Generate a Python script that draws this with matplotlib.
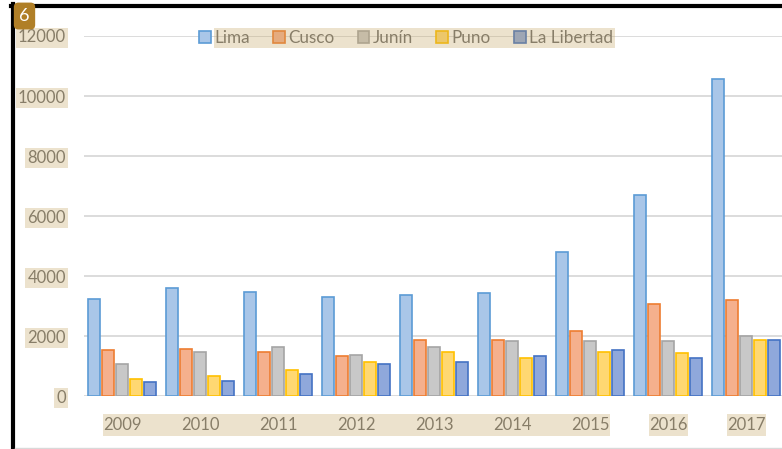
import numpy as np
import matplotlib.pyplot as plt
from matplotlib.patches import Rectangle
from matplotlib.lines import Line2D

years = ['2009', '2010', '2011', '2012', '2013', '2014', '2015', '2016', '2017']
regions = ['Lima', 'Cusco', 'Junín', 'Puno', 'La Libertad']
lima = [3250, 3620, 3480, 3320, 3390, 3430, 4800, 6690, 10560]
cusco = [1550, 1590, 1460, 1350, 1880, 1880, 2160, 3080, 3200]
junin = [1070, 1490, 1650, 1370, 1650, 1840, 1830, 1850, 2020]
puno = [580, 690, 860, 1130, 1480, 1290, 1480, 1450, 1890]
libertad = [480, 520, 750, 1070, 1150, 1340, 1540, 1280, 1880]

fills = ['#A9C6E8', '#F5B08D', '#C8C8C8', '#FFD872', '#8FA8DB']
edges = ['#5B9BD5', '#ED7D31', '#A5A5A5', '#FFC000', '#4472C4']

W, H = 782, 449
def fx(px):
    return px / W
def fy(py):
    return 1 - py / H

plt.rcParams['font.family'] = ['Lato', 'DejaVu Sans']

fig = plt.figure(figsize=(W / 100, H / 100), dpi=100)
ax = fig.add_axes([fx(84), fy(396.3), fx(698), (396.3 - 36) / H])
ax.set_facecolor('none')

x = np.arange(len(years))
pitch = 0.177
bw = 0.155
series = [lima, cusco, junin, puno, libertad]
bars = []
for i, vals in enumerate(series):
    b = ax.bar(x + (i - 2) * pitch, vals, bw, color=fills[i], edgecolor=edges[i],
               linewidth=1.2, label=regions[i], zorder=3)
    bars.append(b)

ax.set_xlim(-0.487, 8.461)
ax.set_ylim(0, 12000)
ax.set_yticks(range(0, 12001, 2000))
ax.set_xticks(x, years)
ax.yaxis.grid(True, color='#D9D9D9', lw=1.3)
ax.set_axisbelow(True)
for s in ax.spines.values():
    s.set_visible(False)
ax.tick_params(axis='both', length=0, labelsize=12, labelcolor='#6E6E6E')
ax.tick_params(axis='y', pad=13)
ax.tick_params(axis='x', pad=15)

leg = fig.legend(handles=bars, labels=regions, ncol=5, loc='center',
                 bbox_to_anchor=(fx(406), fy(38)), frameon=False, fontsize=12.3,
                 handlelength=0.7, handleheight=0.7, handletextpad=0.2,
                 columnspacing=1.35, labelcolor='#6E6E6E')

# frame pieces of the screenshot
fig.add_artist(Line2D([fx(12.5), fx(12.5)], [fy(4), fy(449)], color='black', lw=3))
fig.add_artist(Line2D([fx(11), fx(782)], [fy(6), fy(6)], color='black', lw=3))
fig.add_artist(Line2D([fx(15), fx(782)], [fy(448), fy(448)], color='#D9D9D9', lw=1))
fig.text(fx(24.5), fy(16), '6', color='white', fontsize=13, ha='center', va='center',
         zorder=20,
         bbox=dict(boxstyle='round,pad=0.3,rounding_size=0.25', fc='#B07F27', ec='none'))

# highlight boxes behind the text
fig.canvas.draw()
r = fig.canvas.get_renderer()
inv = fig.transFigure.inverted()

def mark(x0, y0, x1, y1):
    (a, b), (c, d) = inv.transform([(x0, y0), (x1, y1)])
    fig.add_artist(Rectangle((a, b), c - a, d - b, transform=fig.transFigure,
                             facecolor='#C3A25C', alpha=0.3, edgecolor='none', zorder=10))

for t in ax.get_yticklabels():
    e = t.get_window_extent(r)
    mark(e.x0 - 2, e.y0 - 2, e.x1 + 2, e.y1 + 2)

xl = ax.get_xticklabels()
ext = [t.get_window_extent(r) for t in xl]
mark(ext[0].x0, ext[0].y0 - 3, ext[6].x1 + 1, ext[0].y1 + 3)
for e in ext[7:]:
    mark(e.x0, e.y0 - 3, e.x1 + 1, e.y1 + 3)

le = [t.get_window_extent(r) for t in leg.get_texts()]
mark(le[0].x0, le[0].y0 - 2, le[-1].x1 + 2, le[0].y1 + 2)

fig.savefig('out.png', dpi=100)
